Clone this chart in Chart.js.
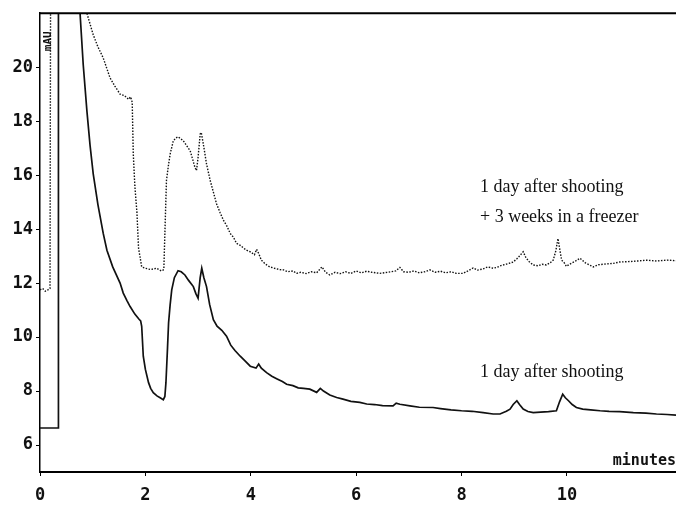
<!DOCTYPE html>
<html>
<head>
<meta charset="utf-8">
<script src="https://cdn.jsdelivr.net/npm/chart.js@4.4.1/dist/chart.umd.min.js"></script>
<style>
  html, body { margin: 0; padding: 0; background: #fff; }
  #wrap { width: 676px; height: 506px; }
</style>
</head>
<body>
<div id="wrap"><canvas id="chart" width="676" height="506"></canvas></div>
<script>
// 1 day after shooting + 3 weeks in a freezer (dotted trace)
const freezerTimes = [0, 0.05, 0.1, 0.15, 0.19, 0.2, 0.89, 1.01, 1.1, 1.2, 1.33, 1.42, 1.52, 1.6, 1.68, 1.72, 1.75, 1.77, 1.8, 1.84, 1.87, 1.93, 2.0, 2.1, 2.21, 2.3, 2.35, 2.37, 2.4, 2.44, 2.47, 2.53, 2.58, 2.62, 2.67, 2.72, 2.78, 2.85, 2.91, 2.94, 2.97, 3.0, 3.04, 3.06, 3.1, 3.16, 3.23, 3.3, 3.35, 3.42, 3.48, 3.55, 3.61, 3.67, 3.73, 3.8, 3.86, 3.92, 4.0, 4.07, 4.11, 4.15, 4.2, 4.28, 4.36, 4.45, 4.55, 4.62, 4.7, 4.8, 4.87, 4.95, 5.05, 5.15, 5.25, 5.35, 5.42, 5.5, 5.6, 5.7, 5.8, 5.9, 6.0, 6.1, 6.2, 6.3, 6.45, 6.6, 6.75, 6.83, 6.9, 7.0, 7.1, 7.2, 7.3, 7.4, 7.5, 7.6, 7.7, 7.8, 7.9, 8.03, 8.12, 8.22, 8.3, 8.4, 8.5, 8.6, 8.67, 8.75, 8.85, 8.98, 9.05, 9.1, 9.17, 9.22, 9.28, 9.36, 9.45, 9.53, 9.61, 9.68, 9.74, 9.79, 9.83, 9.86, 9.9, 9.95, 9.99, 10.05, 10.15, 10.25, 10.35, 10.5, 10.6, 10.7, 10.88, 11.0, 11.2, 11.35, 11.51, 11.7, 11.9, 12.07];
const freezerValues = [11.75, 11.8, 11.7, 11.75, 11.8, 22, 22, 21.2, 20.75, 20.34, 19.6, 19.3, 19.0, 18.95, 18.81, 18.9, 18.7, 16.8, 15.6, 14.6, 13.3, 12.6, 12.55, 12.5, 12.55, 12.45, 12.5, 13.84, 15.8, 16.4, 16.78, 17.27, 17.38, 17.42, 17.35, 17.27, 17.1, 16.9, 16.5, 16.29, 16.17, 16.66, 17.52, 17.58, 17.15, 16.42, 15.8, 15.3, 14.94, 14.6, 14.33, 14.1, 13.84, 13.7, 13.47, 13.4, 13.3, 13.22, 13.15, 13.05, 13.25, 13.1, 12.85, 12.7, 12.6, 12.55, 12.5, 12.49, 12.42, 12.45, 12.36, 12.4, 12.35, 12.42, 12.38, 12.6, 12.4, 12.3, 12.4, 12.35, 12.42, 12.36, 12.45, 12.38, 12.44, 12.4, 12.36, 12.4, 12.45, 12.58, 12.42, 12.4, 12.45, 12.38, 12.42, 12.49, 12.4, 12.44, 12.38, 12.42, 12.36, 12.36, 12.45, 12.56, 12.48, 12.52, 12.6, 12.55, 12.58, 12.65, 12.7, 12.78, 12.9, 13.0, 13.16, 12.95, 12.8, 12.67, 12.64, 12.7, 12.67, 12.75, 12.85, 13.2, 13.65, 13.3, 12.85, 12.75, 12.62, 12.7, 12.8, 12.92, 12.75, 12.6, 12.68, 12.7, 12.73, 12.78, 12.8, 12.82, 12.85, 12.82, 12.85, 12.83];

// 1 day after shooting (solid trace)
const freshTimes = [0, 0.35, 0.35, 0.76, 0.82, 0.89, 0.95, 1.01, 1.1, 1.2, 1.27, 1.38, 1.52, 1.58, 1.65, 1.71, 1.8, 1.88, 1.91, 1.93, 1.96, 2.0, 2.06, 2.1, 2.15, 2.22, 2.28, 2.34, 2.37, 2.39, 2.42, 2.44, 2.47, 2.5, 2.55, 2.62, 2.68, 2.75, 2.82, 2.91, 2.96, 3.0, 3.04, 3.07, 3.11, 3.16, 3.22, 3.29, 3.36, 3.45, 3.54, 3.62, 3.7, 3.8, 3.9, 3.99, 4.1, 4.15, 4.2, 4.3, 4.4, 4.5, 4.6, 4.68, 4.8, 4.9, 5.0, 5.12, 5.25, 5.32, 5.38, 5.5, 5.63, 5.75, 5.9, 6.07, 6.2, 6.35, 6.5, 6.7, 6.76, 6.83, 7.02, 7.2, 7.46, 7.6, 7.8, 8.0, 8.2, 8.41, 8.6, 8.73, 8.85, 8.92, 8.98, 9.05, 9.1, 9.17, 9.26, 9.36, 9.5, 9.65, 9.8, 9.86, 9.92, 9.97, 10.03, 10.1, 10.18, 10.3, 10.45, 10.63, 10.8, 11.0, 11.26, 11.5, 11.7, 11.9, 12.07];
const freshValues = [6.63, 6.63, 22, 22, 20.1, 18.38, 17.1, 16.05, 14.9, 13.84, 13.22, 12.6, 12.0, 11.63, 11.35, 11.13, 10.85, 10.66, 10.6, 10.4, 9.29, 8.8, 8.31, 8.1, 7.94, 7.82, 7.75, 7.68, 7.8, 8.31, 9.6, 10.52, 11.2, 11.75, 12.2, 12.46, 12.42, 12.3, 12.1, 11.87, 11.6, 11.44, 12.2, 12.55, 12.2, 11.87, 11.2, 10.64, 10.4, 10.25, 10.03, 9.7, 9.5, 9.29, 9.1, 8.92, 8.85, 9.0, 8.85, 8.68, 8.55, 8.45, 8.35, 8.25, 8.2, 8.12, 8.1, 8.07, 7.95, 8.1, 8.0, 7.85, 7.76, 7.7, 7.62, 7.58, 7.52, 7.5, 7.46, 7.45, 7.55, 7.51, 7.45, 7.4, 7.39, 7.35, 7.3, 7.27, 7.25, 7.2, 7.15, 7.15, 7.25, 7.33, 7.5, 7.64, 7.5, 7.33, 7.24, 7.2, 7.22, 7.24, 7.27, 7.6, 7.88, 7.75, 7.64, 7.5, 7.39, 7.33, 7.3, 7.27, 7.25, 7.24, 7.2, 7.18, 7.15, 7.13, 7.11];

const xTickValues = [0, 2, 4, 6, 8, 10];
const yTickValues = [6, 8, 10, 12, 14, 16, 18, 20];

// trace labels: [text, minutes, mAU]
const traceLabels = [
  ['1 day after shooting', 8.35, 15.55],
  ['+ 3 weeks in a freezer', 8.35, 14.45],
  ['1 day after shooting', 8.35, 8.7]
];

const toPoints = (xs, ys) => xs.map((x, i) => ({ x: x, y: ys[i] }));

const monoFont = { family: '"DejaVu Sans Mono", monospace', size: 17, weight: 'bold' };

const decorations = {
    id: 'decorations',
    afterDraw(chart) {
        const ctx = chart.ctx;
        const area = chart.chartArea;
        const xs = chart.scales.x;
        const ys = chart.scales.y;
        ctx.save();
        // top frame line
        ctx.strokeStyle = '#000';
        ctx.lineWidth = 2;
        ctx.beginPath();
        ctx.moveTo(area.left, area.top);
        ctx.lineTo(area.right, area.top);
        ctx.stroke();

        // trace labels
        ctx.fillStyle = '#111';
        ctx.font = '18px "Liberation Serif", "Times New Roman", serif';
        ctx.textBaseline = 'middle';
        ctx.textAlign = 'left';
        traceLabels.forEach(([text, t, v]) => {
            ctx.fillText(text, xs.getPixelForValue(t), ys.getPixelForValue(v));
        });

        // axis units
        ctx.font = 'bold 15px "DejaVu Sans Mono", monospace';
        ctx.textAlign = 'right';
        ctx.textBaseline = 'alphabetic';
        ctx.fillText('minutes', area.right, area.bottom - 7);

        ctx.font = 'bold 11px "DejaVu Sans Mono", monospace';
        ctx.translate(area.left + 8, area.top + 28);
        ctx.rotate(-Math.PI / 2);
        ctx.textAlign = 'center';
        ctx.textBaseline = 'middle';
        ctx.fillText('mAU', 0, 0);
        ctx.restore();
    }
};

const ctx = document.getElementById('chart').getContext('2d');
new Chart(ctx, {
    type: 'line',
    data: {
        datasets: [{
            label: '1 day after shooting + 3 weeks in a freezer',
            data: toPoints(freezerTimes, freezerValues),
            borderColor: '#111',
            borderWidth: 1.4,
            borderDash: [1.5, 1.5],
            pointRadius: 0,
            tension: 0
        }, {
            label: '1 day after shooting',
            data: toPoints(freshTimes, freshValues),
            borderColor: '#111',
            borderWidth: 1.7,
            pointRadius: 0,
            tension: 0
        }]
    },
    options: {
        responsive: false,
        animation: false,
        layout: { padding: { top: 12, right: 0, left: 0, bottom: 0 } },
        plugins: {
            legend: { display: false },
            tooltip: { enabled: false }
        },
        scales: {
            x: {
                type: 'linear',
                min: 0,
                max: 12.07,
                afterBuildTicks: (scale) => { scale.ticks = xTickValues.map(v => ({ value: v })); },
                afterFit: (scale) => { scale.height = 34; },
                ticks: { color: '#111', font: monoFont, padding: 9, maxRotation: 0 },
                grid: { drawOnChartArea: false, drawTicks: true, tickLength: 4, color: '#000', lineWidth: 1 },
                border: { display: true, color: '#000', width: 2 }
            },
            y: {
                type: 'linear',
                min: 5,
                max: 22,
                afterBuildTicks: (scale) => { scale.ticks = yTickValues.map(v => ({ value: v })); },
                afterFit: (scale) => { scale.width = 40; },
                ticks: { color: '#111', font: monoFont, padding: 3 },
                grid: { drawOnChartArea: false, drawTicks: true, tickLength: 4, color: '#000', lineWidth: 1 },
                border: { display: true, color: '#000', width: 1.5 }
            }
        }
    },
    plugins: [decorations]
});
</script>
</body>
</html>
